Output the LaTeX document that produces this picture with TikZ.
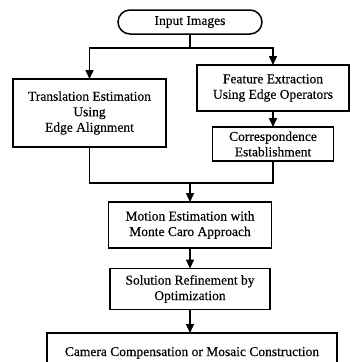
\documentclass[tikz,border=0pt]{standalone}
\usepackage{fontspec}
\setmainfont{Liberation Serif}
\newfontfamily\diagfont{Liberation Serif}[FakeBold=0.35]
\usetikzlibrary{arrows.meta,shapes.misc,positioning}
\begin{document}
\begin{tikzpicture}[x=1pt,y=-1pt,
  font=\diagfont\fontsize{13.5}{15.5}\selectfont,
  every node/.style={inner sep=0pt,outer sep=0pt},
  box/.style={draw,line width=1.5pt,rectangle,align=center},
  pill/.style={draw,line width=1.5pt,rounded rectangle,align=center},
  link/.style={line width=1.5pt},
  arr/.style={line width=1.5pt,-{Triangle[length=9pt,width=8pt]}}]
\path[use as bounding box] (0,0) rectangle (353,362);
\clip (0,0) rectangle (353,362);
\node[pill,minimum width=144pt,minimum height=24pt] (in) at (190,22) {Input Images};
\node[box,minimum width=153pt,minimum height=68pt] (tr) at (89.5,113) {Translation Estimation\\Using\\Edge Alignment};
\node[box,minimum width=152pt,minimum height=46pt] (fe) at (273,88) {Feature Extraction\\Using Edge Operators};
\node[box,minimum width=121pt,minimum height=34pt] (co) at (273,144) {Correspondence\\Establishment};
\node[box,minimum width=163pt,minimum height=46pt] (me) at (190,225) {Motion Estimation with\\Monte Caro Approach};
\node[box,minimum width=160pt,minimum height=41pt] (so) at (190,289) {Solution Refinement by\\Optimization};
\node[box,minimum width=290pt,minimum height=40pt] (ca) at (192,353) {Camera Compensation or Mosaic Construction};
\coordinate (j1) at (190,48);
\coordinate (j2) at (190,183);
\draw[link] (in.south) -- (j1);
\draw[arr] (j1) -| (tr.north);
\draw[arr] (j1) -| (fe.north);
\draw[arr] (fe.south) -- (co.north);
\draw[link] (tr.south) |- (j2);
\draw[link] (co.south) |- (j2);
\draw[arr] (j2) -- (me.north);
\draw[arr] (me.south) -- (so.north);
\draw[arr] (so.south) -- (so.south |- ca.north);
\end{tikzpicture}
\end{document}
